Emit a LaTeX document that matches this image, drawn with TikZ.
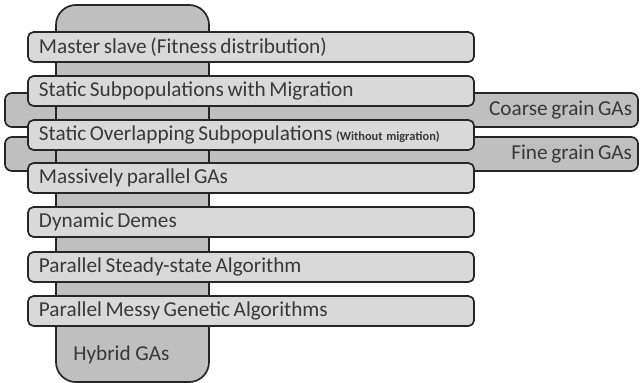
\documentclass[tikz,border=0pt]{standalone}
\usepackage{fontspec}
\setmainfont{Carlito}
\usepackage{tikz}
\newcommand{\barfont}{\fontsize{15.1}{17}\selectfont}
\newcommand{\smallnote}[1]{{\fontsize{8.8}{10}\selectfont\bfseries #1}}
\tikzset{
  blk/.style={rectangle, line width=1.2pt, draw=black!85, text=black!78,
              font=\barfont, execute at begin node={\spaceskip=0.17em\relax}},
  barb/.style={blk, rounded corners=4pt, fill=black!15, minimum width=11.15cm,
               minimum height=0.75cm, text width=10.6cm, align=left, inner xsep=0.275cm},
  grainb/.style={blk, rounded corners=5pt, fill=black!25, minimum width=15.825cm,
                 minimum height=0.85cm, text width=15.525cm, align=right, inner xsep=0.15cm},
  colb/.style={blk, rounded corners=0.5cm, fill=black!25, minimum width=3.825cm,
               minimum height=9.425cm},
  lbl/.style={font=\barfont, text=black!78, inner sep=0pt},
}
\begin{document}
\begin{tikzpicture}[x=0.025cm, y=-0.025cm]
  \useasboundingbox (0,0) rectangle (641,383);
  % grain bands behind everything
  \node[grainb] (coarse) at (321.5,110) {Coarse grain GAs};
  \node[grainb] (fine)   at (321.5,154) {Fine grain GAs};
  % hybrid column
  \node[colb] (hyb) at (132.5,193.5) {};
  \node[lbl, anchor=west] (hybt) at (73,355) {Hybrid GAs};
  % the bars
  \node[barb] (ms)  at (251,47)  {Master slave (Fitness distribution)};
  \node[barb] (ssm) at (251,91)  {Static Subpopulations with Migration};
  \node[barb] (sos) at (251,135) {Static Overlapping Subpopulations \smallnote{(Without migration)}};
  \node[barb] (mp)  at (251,178) {Massively parallel GAs};
  \node[barb] (dd)  at (251,222) {Dynamic Demes};
  \node[barb] (pss) at (251,267) {Parallel Steady-state Algorithm};
  \node[barb] (pmg) at (251,311) {Parallel Messy Genetic Algorithms};
\end{tikzpicture}
\end{document}
